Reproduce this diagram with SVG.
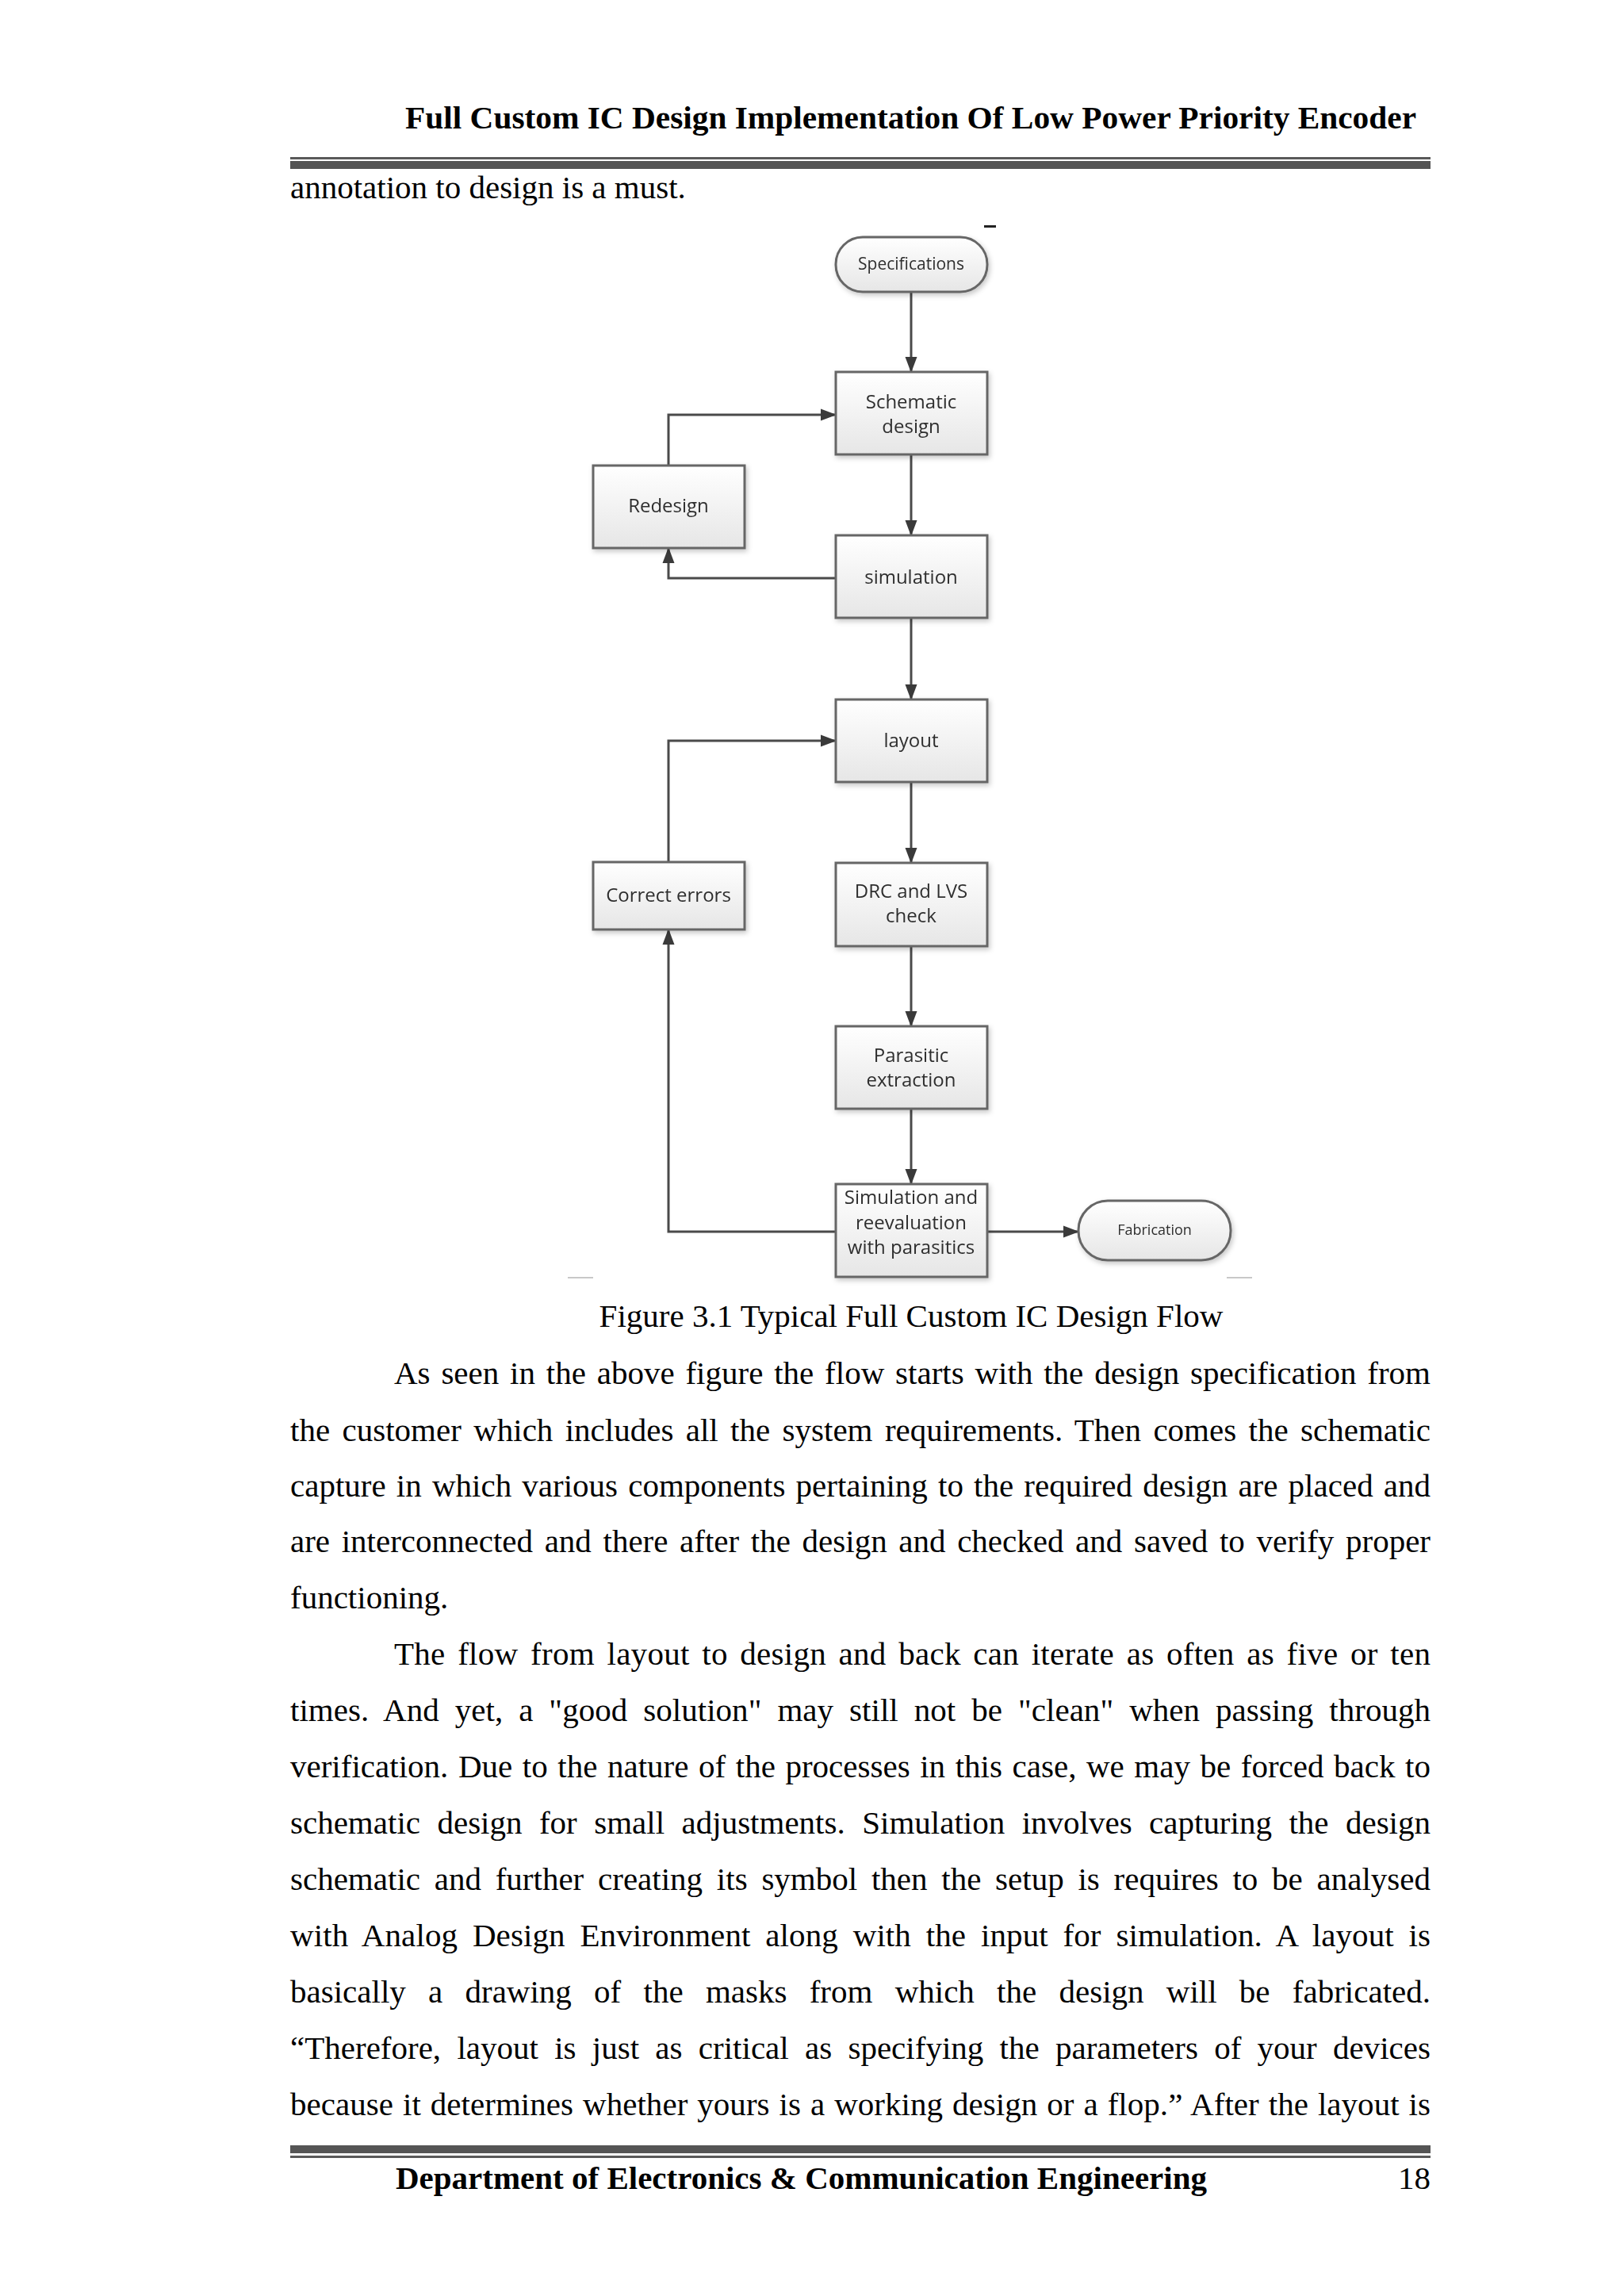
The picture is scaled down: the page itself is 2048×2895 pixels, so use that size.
<svg xmlns="http://www.w3.org/2000/svg" width="2048" height="2895" viewBox="0 0 2048 2895">
<style>
.page{font-family:"Liberation Serif","Times New Roman",serif;font-size:41px;fill:#000}
.b{font-weight:bold}
.box{fill:url(#g);stroke:#666;stroke-width:3}
.lbl{font-family:"Open Sans","Noto Sans",sans-serif;font-size:24px;fill:#2f2f2f;text-anchor:middle}
.con{fill:none;stroke:#4a4a4a;stroke-width:3}
</style>
<defs>
<linearGradient id="g" x1="0" y1="0" x2="0" y2="1">
<stop offset="0" stop-color="#ffffff"/>
<stop offset="1" stop-color="#e6e6e6"/>
</linearGradient>
<filter id="sh" x="-10%" y="-10%" width="120%" height="130%">
<feDropShadow dx="2" dy="3" stdDeviation="3" flood-color="#000" flood-opacity="0.22"/>
</filter>
<marker id="ah" markerUnits="userSpaceOnUse" markerWidth="20" markerHeight="18" viewBox="0 0 20 18" refX="19" refY="9" orient="auto">
<path d="M0,1.5 L20,9 L0,16.5 Z" fill="#3a3a3a"/>
</marker>
</defs>
<rect width="2048" height="2895" fill="#fff"/>

<!-- header -->
<text class="page b" x="511" y="162" textLength="1275" lengthAdjust="spacingAndGlyphs">Full Custom IC Design Implementation Of Low Power Priority Encoder</text>
<rect x="366" y="198" width="1438" height="3" fill="#5a5a5a"/>
<rect x="366" y="203" width="1438" height="10" fill="#555"/>

<text class="page" x="366" y="250">annotation to design is a must.</text>

<!-- small marks -->
<rect x="1241" y="284" width="15" height="3" fill="#222"/>
<rect x="716" y="1610" width="32" height="2" fill="#c8c8c8"/>
<rect x="1547" y="1610" width="32" height="2" fill="#c8c8c8"/>

<!-- connectors -->
<g id="connectors">
<path class="con" d="M1149,368 V469" marker-end="url(#ah)"/>
<path class="con" d="M843,587 V523 H1054" marker-end="url(#ah)"/>
<path class="con" d="M1149,573 V675" marker-end="url(#ah)"/>
<path class="con" d="M1054,729 H843 V691" marker-end="url(#ah)"/>
<path class="con" d="M1149,779 V882" marker-end="url(#ah)"/>
<path class="con" d="M843,1087 V934 H1054" marker-end="url(#ah)"/>
<path class="con" d="M1149,986 V1088" marker-end="url(#ah)"/>
<path class="con" d="M1149,1193 V1294" marker-end="url(#ah)"/>
<path class="con" d="M1149,1398 V1493" marker-end="url(#ah)"/>
<path class="con" d="M1054,1553 H843 V1172" marker-end="url(#ah)"/>
<path class="con" d="M1245,1553 H1360" marker-end="url(#ah)"/>
</g>

<!-- nodes -->
<g id="specifications" filter="url(#sh)">
<rect class="box" x="1054" y="299" width="191" height="69" rx="34" ry="34"/>
<text class="lbl" x="1149" y="340" style="font-size:21px">Specifications</text>
</g>
<g id="schematic" filter="url(#sh)">
<rect class="box" x="1054" y="469" width="191" height="104"/>
<text class="lbl" x="1149" y="515">Schematic</text>
<text class="lbl" x="1149" y="546">design</text>
</g>
<g id="redesign" filter="url(#sh)">
<rect class="box" x="748" y="587" width="191" height="104"/>
<text class="lbl" x="843" y="646">Redesign</text>
</g>
<g id="simulation" filter="url(#sh)">
<rect class="box" x="1054" y="675" width="191" height="104"/>
<text class="lbl" x="1149" y="736">simulation</text>
</g>
<g id="layout" filter="url(#sh)">
<rect class="box" x="1054" y="882" width="191" height="104"/>
<text class="lbl" x="1149" y="942">layout</text>
</g>
<g id="correct-errors" filter="url(#sh)">
<rect class="box" x="748" y="1087" width="191" height="85"/>
<text class="lbl" x="843" y="1137">Correct errors</text>
</g>
<g id="drc-lvs" filter="url(#sh)">
<rect class="box" x="1054" y="1088" width="191" height="105"/>
<text class="lbl" x="1149" y="1132">DRC and LVS</text>
<text class="lbl" x="1149" y="1163">check</text>
</g>
<g id="parasitic" filter="url(#sh)">
<rect class="box" x="1054" y="1294" width="191" height="104"/>
<text class="lbl" x="1149" y="1339">Parasitic</text>
<text class="lbl" x="1149" y="1370">extraction</text>
</g>
<g id="sim-reeval" filter="url(#sh)">
<rect class="box" x="1054" y="1493" width="191" height="117"/>
<text class="lbl" x="1149" y="1518">Simulation and</text>
<text class="lbl" x="1149" y="1550">reevaluation</text>
<text class="lbl" x="1149" y="1581">with parasitics</text>
</g>
<g id="fabrication" filter="url(#sh)">
<rect class="box" x="1360" y="1514" width="192" height="75" rx="37" ry="37"/>
<text class="lbl" x="1456" y="1557" style="font-size:18px">Fabrication</text>
</g>

<!-- caption and body -->
<text class="page" x="1149" y="1673" text-anchor="middle">Figure 3.1 Typical Full Custom IC Design Flow</text>
<text class="page" x="497" y="1745" word-spacing="3.6" textLength="1307" lengthAdjust="spacing">As seen in the above figure the flow starts with the design specification from</text>
<text class="page" x="366" y="1817" word-spacing="5.1" textLength="1438" lengthAdjust="spacing">the customer which includes all the system requirements. Then comes the schematic</text>
<text class="page" x="366" y="1887" word-spacing="2.9" textLength="1438" lengthAdjust="spacing">capture in which various components pertaining to the required design are placed and</text>
<text class="page" x="366" y="1957" word-spacing="4.4" textLength="1438" lengthAdjust="spacing">are interconnected and there after the design and checked and saved to verify proper</text>
<text class="page" x="366" y="2028">functioning.</text>
<text class="page" x="497" y="2099" word-spacing="5.1" textLength="1307" lengthAdjust="spacing">The flow from layout to design and back can iterate as often as five or ten</text>
<text class="page" x="366" y="2170" word-spacing="9.7" textLength="1438" lengthAdjust="spacing">times. And yet, a "good solution" may still not be "clean" when passing through</text>
<text class="page" x="366" y="2241" word-spacing="2.3" textLength="1438" lengthAdjust="spacing">verification. Due to the nature of the processes in this case, we may be forced back to</text>
<text class="page" x="366" y="2312" word-spacing="11.2" textLength="1438" lengthAdjust="spacing">schematic design for small adjustments. Simulation involves capturing the design</text>
<text class="page" x="366" y="2383" word-spacing="7.5" textLength="1438" lengthAdjust="spacing">schematic and further creating its symbol then the setup is requires to be analysed</text>
<text class="page" x="366" y="2454" word-spacing="8.5" textLength="1438" lengthAdjust="spacing">with Analog Design Environment along with the input for simulation. A layout is</text>
<text class="page" x="366" y="2525" word-spacing="18" textLength="1438" lengthAdjust="spacing">basically a drawing of the masks from which the design will be fabricated.</text>
<text class="page" x="366" y="2596" word-spacing="10" textLength="1438" lengthAdjust="spacing">“Therefore, layout is just as critical as specifying the parameters of your devices</text>
<text class="page" x="366" y="2667" word-spacing="1.7" textLength="1438" lengthAdjust="spacing">because it determines whether yours is a working design or a flop.” After the layout is</text>

<!-- footer -->
<rect x="366" y="2705" width="1438" height="10" fill="#555"/>
<rect x="366" y="2718" width="1438" height="3" fill="#5a5a5a"/>
<text class="page b" x="499" y="2760">Department of Electronics &amp; Communication Engineering</text>
<text class="page" x="1804" y="2760" text-anchor="end">18</text>
</svg>
